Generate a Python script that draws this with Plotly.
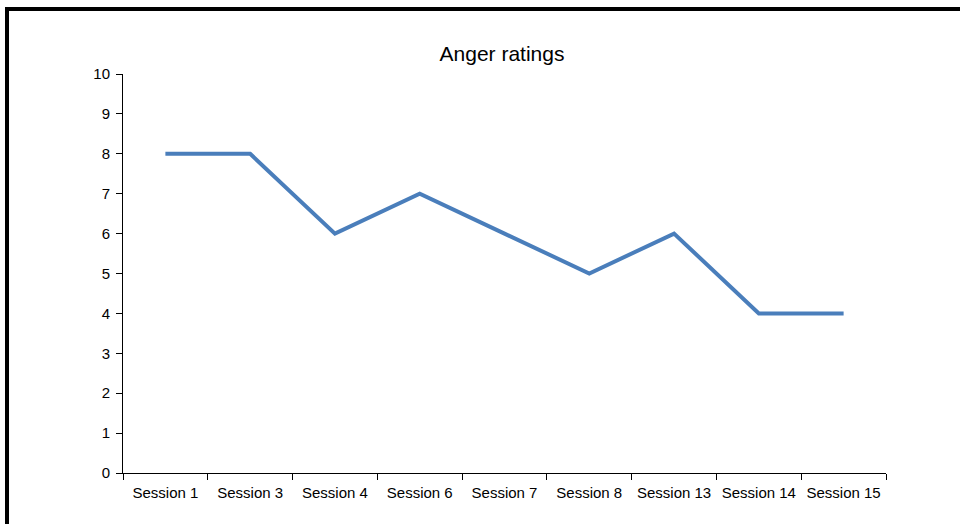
import plotly.graph_objects as go

sessions = ["Session 1", "Session 3", "Session 4", "Session 6", "Session 7",
            "Session 8", "Session 13", "Session 14", "Session 15"]
ratings = [8, 8, 6, 7, 6, 5, 6, 4, 4]
y_ticks = list(range(0, 11))

W, H = 960, 524
L, R, T, B = 123, 74, 74, 51
pw, ph = W - L - R, H - T - B

def px_x(x):
    return (x - L) / pw

def px_y(y):
    return (H - B - y) / ph

fig = go.Figure()
fig.add_trace(go.Scatter(
    x=sessions, y=ratings, mode="lines",
    line=dict(color="#4A7EBB", width=4),
    showlegend=False, hoverinfo="skip",
))

fig.update_layout(
    width=W, height=H,
    margin=dict(l=L, r=R, t=T, b=B),
    paper_bgcolor="white", plot_bgcolor="white",
    font=dict(family="Liberation Sans, Arial, sans-serif", size=15, color="black"),
    title=dict(text="Anger ratings", x=px_x(502), xref="paper", xanchor="center",
               y=1 - 54 / H, yanchor="middle", font=dict(size=21, color="black")),
    xaxis=dict(
        type="category", showgrid=False, zeroline=False,
        showline=True, linecolor="black", linewidth=1,
        ticks="outside", ticklen=6, tickcolor="black", tickwidth=1,
        tickson="boundaries", range=[-0.5, len(sessions) - 0.5],
        tickfont=dict(size=15), ticklabelstandoff=6, tickangle=0,
        automargin=False,
    ),
    yaxis=dict(
        range=[0, 10], tickvals=y_ticks, showgrid=False, zeroline=False,
        showline=True, linecolor="black", linewidth=1,
        ticks="outside", ticklen=6, tickcolor="black", tickwidth=1,
        tickfont=dict(size=15), ticklabelstandoff=3, automargin=False,
    ),
    shapes=[
        dict(type="line", xref="paper", yref="paper",
             x0=px_x(7), x1=px_x(7), y0=px_y(H + 5), y1=px_y(7),
             line=dict(color="black", width=4)),
        dict(type="line", xref="paper", yref="paper",
             x0=px_x(5), x1=px_x(W + 5), y0=px_y(9), y1=px_y(9),
             line=dict(color="black", width=4)),
    ],
)

fig.write_html("out.html", config={"displayModeBar": False},
               post_script="document.body.style.margin='0';")
